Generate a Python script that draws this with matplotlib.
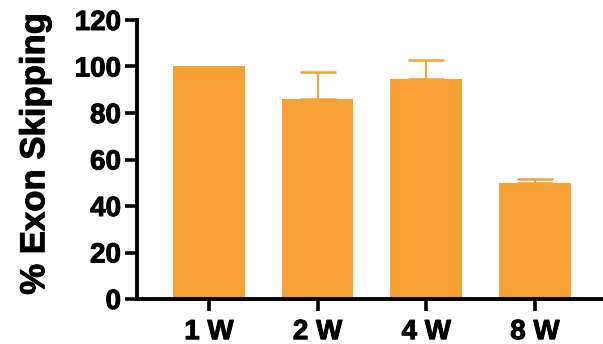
import matplotlib
matplotlib.use("Agg")
import matplotlib.pyplot as plt
import matplotlib.patheffects as pe

groups = ["1 W", "2 W", "4 W", "8 W"]
skipping = [100, 86, 94.7, 49.8]
err_up = [0, 11.5, 8.3, 2.0]

bar_color = "#F7A034"

plt.rcParams["font.family"] = ["Liberation Sans", "DejaVu Sans"]
plt.rcParams["font.weight"] = "bold"

fig = plt.figure(figsize=(6.03, 3.44), dpi=100)
ax = fig.add_axes([137 / 603, 1 - 299 / 344, 1 - 137 / 603, (299 - 20) / 344])

x = list(range(len(groups)))
ax.bar(x, skipping, width=0.66, color=bar_color, zorder=2)

# only the groups with a spread get an error bar (upper side only)
ex = [i for i in x if err_up[i] > 0]
ax.errorbar(ex, [skipping[i] for i in ex],
            yerr=[[0] * len(ex), [err_up[i] for i in ex]], fmt="none",
            ecolor=bar_color, elinewidth=1.4, capsize=13, capthick=1.8, zorder=1)

ax.set_xlim(-0.662, 3.626)
ax.set_ylim(0, 120)
ax.set_yticks(range(0, 121, 20))
ax.set_xticks(x)
ax.set_xticklabels(groups)

for side in ["top", "right"]:
    ax.spines[side].set_visible(False)
for side in ["left", "bottom"]:
    ax.spines[side].set_linewidth(2.8)
ax.tick_params(axis="both", length=8.5, width=2.6, labelsize=20)
ax.tick_params(axis="y", pad=3)
ax.tick_params(axis="x", pad=6)

heavy = [pe.withStroke(linewidth=0.7, foreground="black")]
for lab in ax.get_xticklabels() + ax.get_yticklabels():
    lab.set_fontweight("bold")
    lab.set_path_effects(heavy)

ylab = ax.set_ylabel("% Exon Skipping", fontsize=25, fontweight="bold")
ylab.set_path_effects(heavy)
ax.yaxis.set_label_coords(-0.184, 0.52)

fig.savefig("out.png", dpi=100)
